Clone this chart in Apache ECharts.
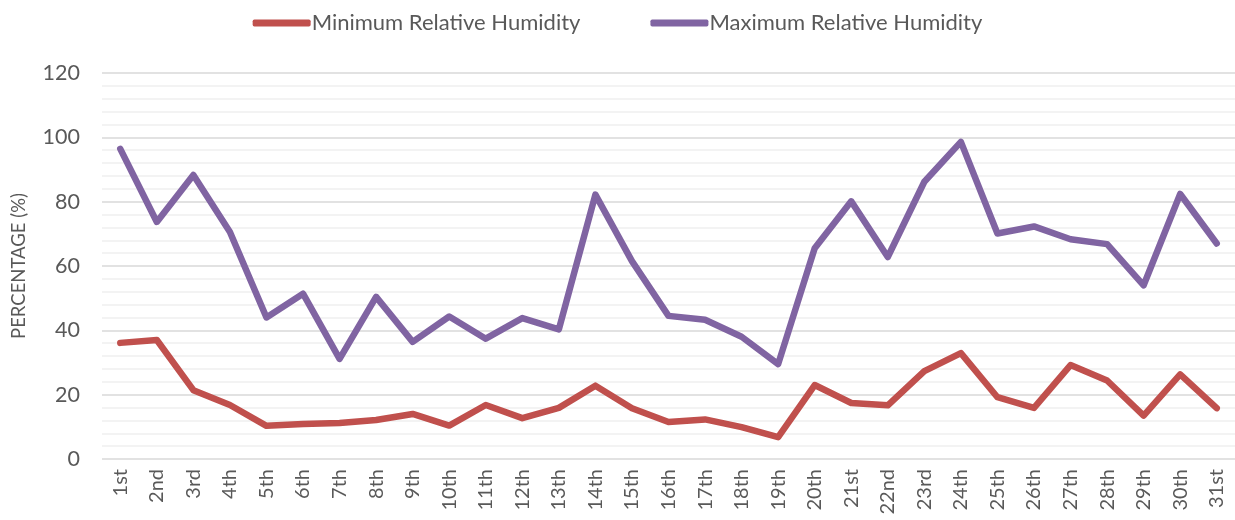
<!DOCTYPE html>
<html>
<head>
<meta charset="utf-8">
<script src="https://cdn.jsdelivr.net/npm/echarts@6/dist/echarts.min.js"></script>
<style>html,body{margin:0;padding:0;background:#fff}#c{width:1235px;height:520px}</style>
</head>
<body>
<div id="c"></div>
<script>
const days = ['1st','2nd','3rd','4th','5th','6th','7th','8th','9th','10th','11th','12th','13th','14th','15th','16th','17th','18th','19th','20th','21st','22nd','23rd','24th','25th','26th','27th','28th','29th','30th','31st'];
const minRH = [36.1,37,21.4,16.8,10.3,10.9,11.2,12.1,14,10.4,16.8,12.7,15.9,22.8,15.8,11.5,12.3,9.9,6.8,23,17.4,16.7,27.3,32.9,19.2,15.9,29.2,24.4,13.5,26.3,15.8];
const maxRH = [96.4,73.7,88.3,70.6,44,51.4,31.1,50.4,36.4,44.3,37.4,43.8,40.3,82.2,61.5,44.5,43.3,38,29.5,65.5,80.1,62.8,86.2,98.6,70.1,72.3,68.3,66.8,54,82.4,67];
const yTicks = [0,20,40,60,80,100,120];

const font = 'Lato, "Open Sans", sans-serif';
const chart = echarts.init(document.getElementById('c'));
chart.setOption({
  animation: false,
  textStyle: {fontFamily: font},
  legend: {
    top: 7, left: 'center', itemWidth: 58, itemHeight: 7, itemGap: 70,
    icon: 'roundRect',
    textStyle: {fontFamily: font, fontSize: 22, color: '#595959', padding: [0,0,0,-4]},
    data: ['Minimum Relative Humidity','Maximum Relative Humidity']
  },
  grid: {left: 102, right: -5, top: 73, bottom: 61, containLabel: false},
  xAxis: {
    type: 'category', data: days, boundaryGap: true,
    axisLine: {show: false}, axisTick: {show: false},
    axisLabel: {rotate: 90, fontFamily: font, fontSize: 20, color: '#595959', margin: 10, interval: 0}
  },
  yAxis: {
    type: 'value', min: yTicks[0], max: yTicks[yTicks.length-1], interval: 20,
    name: 'PERCENTAGE (%)', nameLocation: 'middle', nameGap: 73, nameRotate: 90,
    nameTextStyle: {fontFamily: font, fontSize: 18.5, color: '#595959'},
    axisLine: {show: false}, axisTick: {show: false},
    axisLabel: {fontFamily: font, fontSize: 21.5, color: '#595959', margin: 22},
    splitLine: {lineStyle: {color: '#d9d9d9', width: 1.5}},
    minorTick: {show: false, splitNumber: 5},
    minorSplitLine: {show: true, lineStyle: {color: '#f0f0f0', width: 1.5}}
  },
  series: [
    {name: 'Minimum Relative Humidity', type: 'line', data: minRH, symbol: 'none',
     lineStyle: {color: '#C0504D', width: 6.5, cap: 'round', join: 'round'}, itemStyle: {color: '#C0504D'}},
    {name: 'Maximum Relative Humidity', type: 'line', data: maxRH, symbol: 'none',
     lineStyle: {color: '#8064A2', width: 6.5, cap: 'round', join: 'round'}, itemStyle: {color: '#8064A2'}}
  ]
});
</script>
</body>
</html>
